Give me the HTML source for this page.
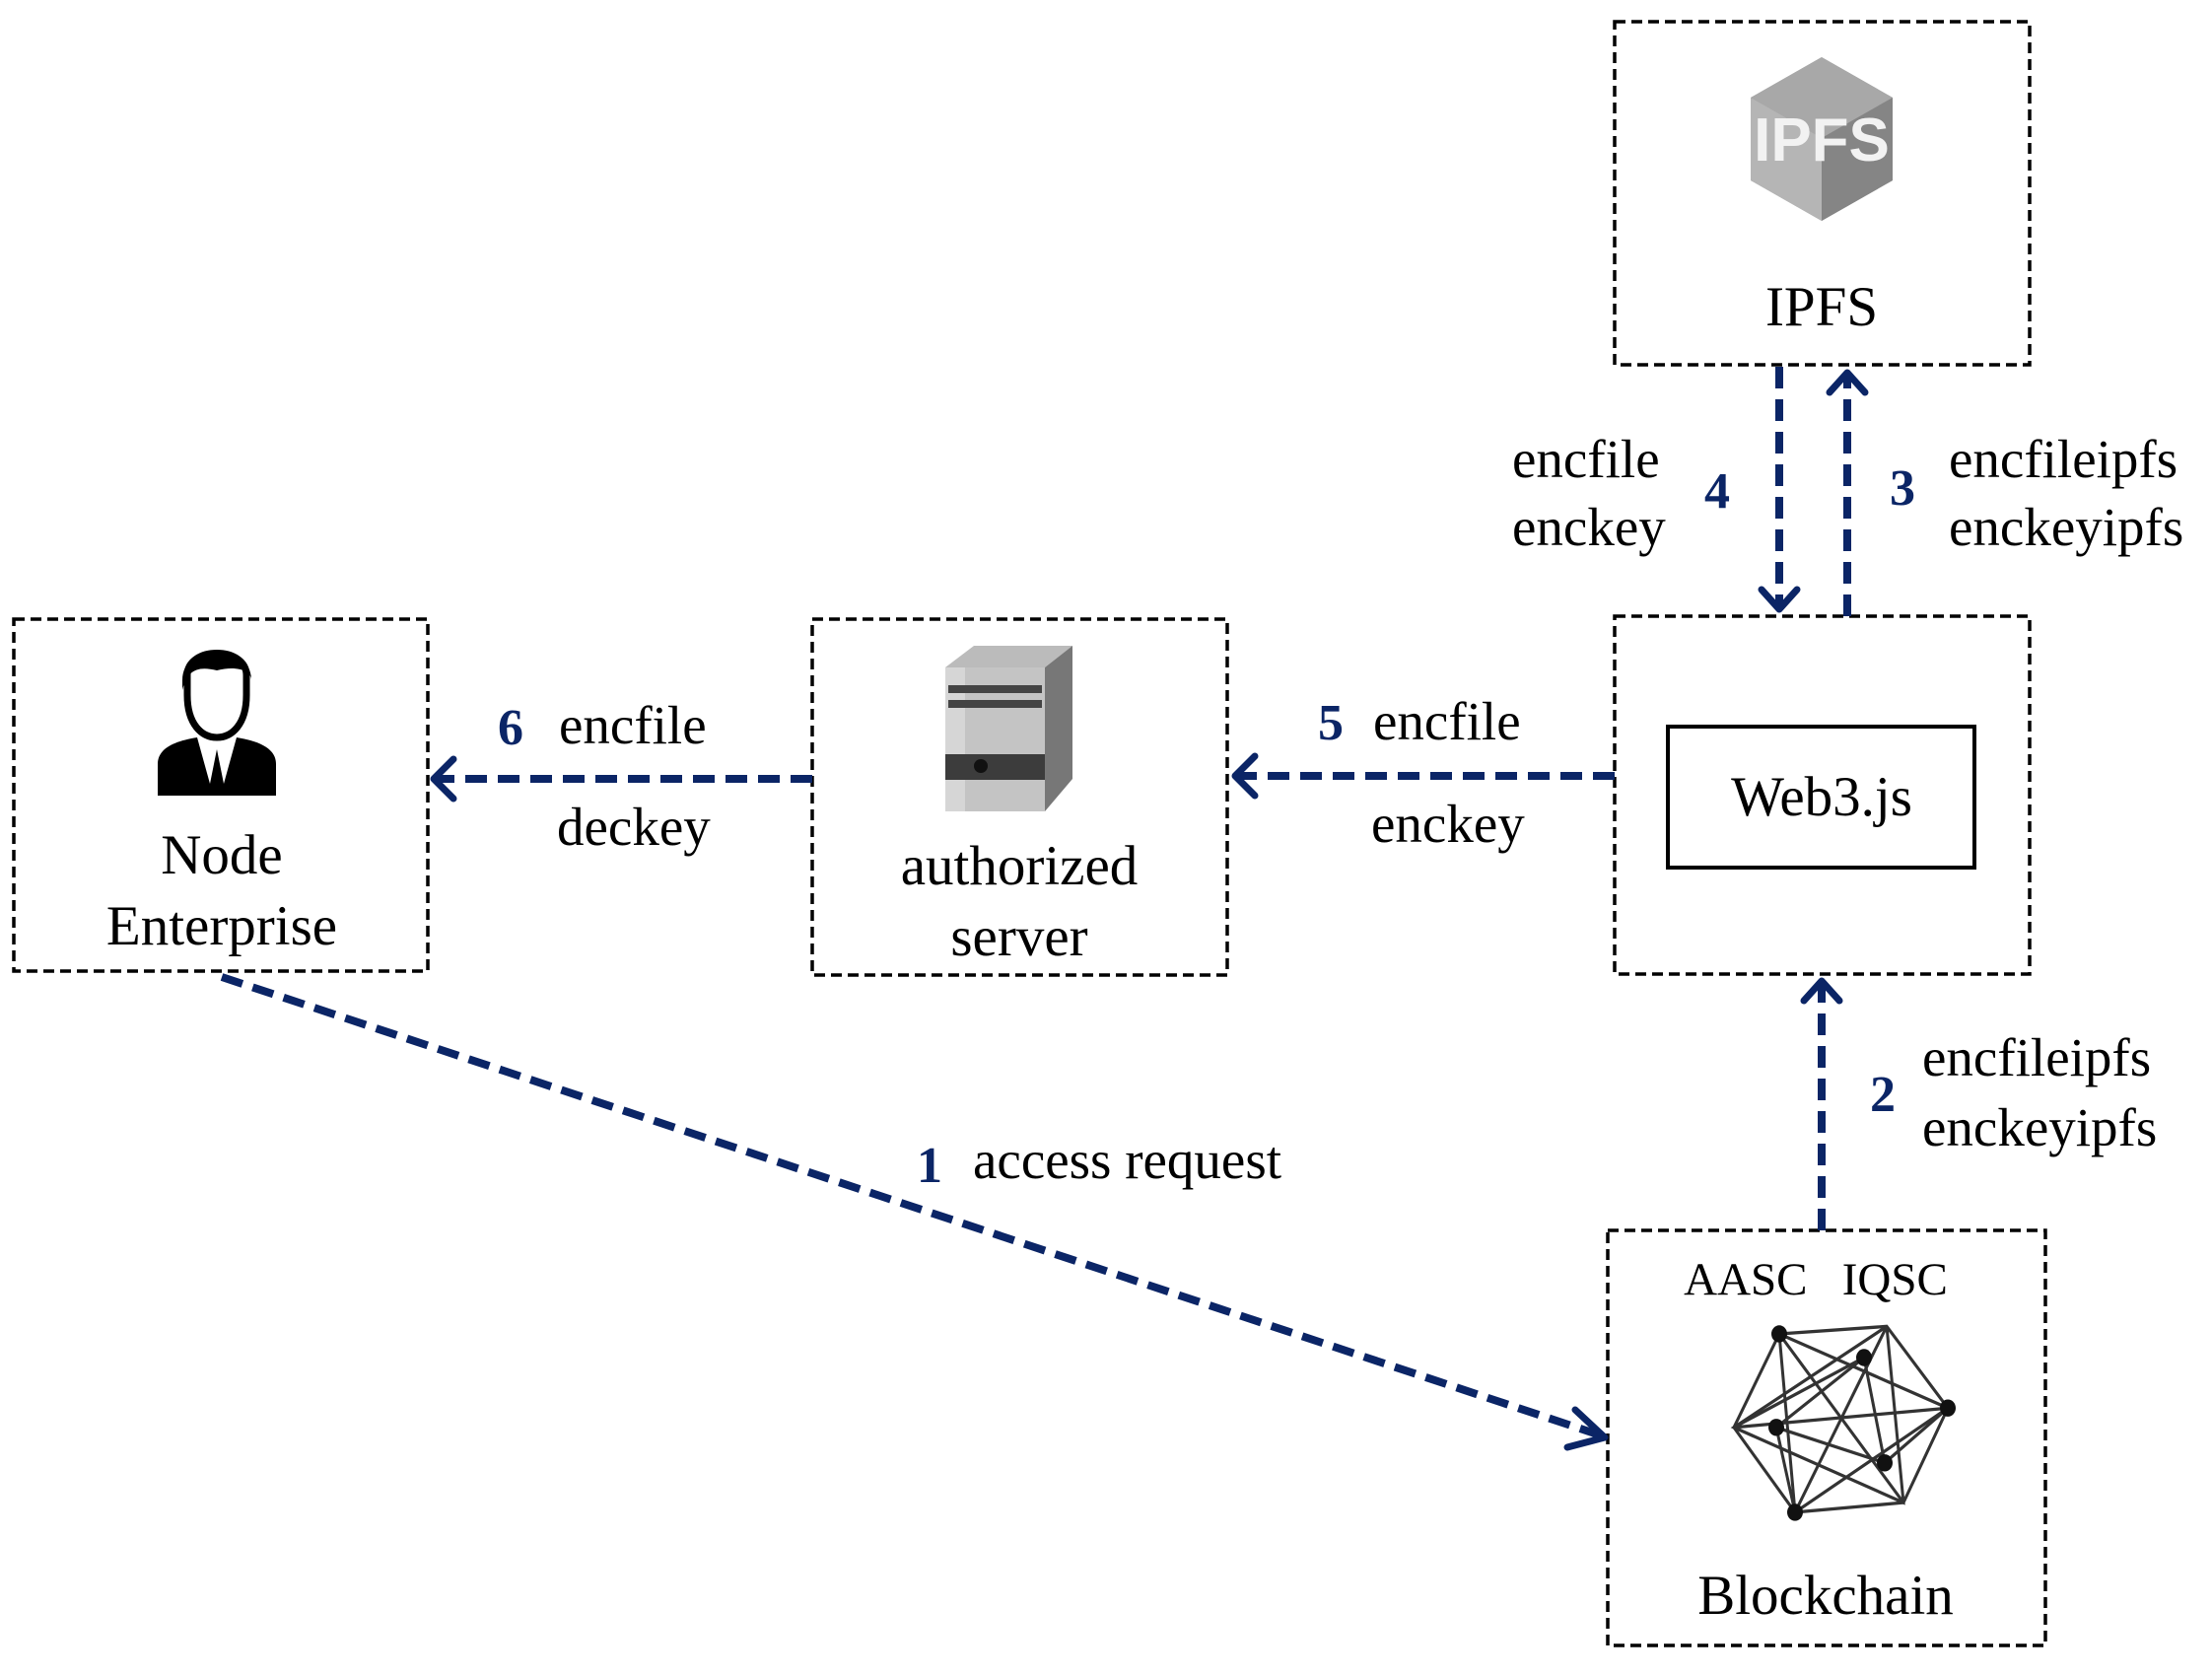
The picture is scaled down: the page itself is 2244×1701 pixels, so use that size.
<!DOCTYPE html>
<html><head><meta charset="utf-8"><style>
html,body{margin:0;padding:0;background:#fff;}
svg text{font-family:"Liberation Serif",serif;fill:#000;}
</style></head><body>
<svg width="2244" height="1696" viewBox="0 0 2244 1696" xmlns="http://www.w3.org/2000/svg">
<g fill="none" stroke="#000" stroke-width="3.5" stroke-dasharray="11 6">
<rect x="1638" y="22" width="421" height="348"/>
<rect x="1638" y="625" width="421" height="363"/>
<rect x="14" y="628" width="420" height="357"/>
<rect x="824" y="628" width="421" height="361"/>
<rect x="1631" y="1248" width="444" height="421"/>
</g>
<rect x="1692" y="737" width="311" height="143" fill="none" stroke="#000" stroke-width="4"/>

<g fill="none" stroke="#0b2566" stroke-width="8" stroke-dasharray="22 11">
<line x1="824" y1="790" x2="440" y2="790"/>
<line x1="1638" y1="787" x2="1253" y2="787"/>
<line x1="1805" y1="372" x2="1805" y2="616"/>
<line x1="1874" y1="625" x2="1874" y2="380"/>
<line x1="1848" y1="1248" x2="1848" y2="997"/>
<line x1="225" y1="991" x2="1624" y2="1456"/>
</g>
<g fill="none" stroke="#0b2566" stroke-width="7" stroke-linecap="round" stroke-linejoin="round">
<polyline points="460,770 440,790 460,810"/>
<polyline points="1273,767 1253,787 1273,807"/>
<polyline points="1787,598 1805,618 1823,598"/>
<polyline points="1856,398 1874,378 1892,398"/>
<polyline points="1830,1015 1848,995 1866,1015"/>
<polyline points="1598,1430 1628,1458 1590,1468"/>
</g>

<g font-size="55">
<text x="567" y="754">encfile</text>
<text x="565" y="857">deckey</text>
<text x="1393" y="750">encfile</text>
<text x="1391" y="854">enckey</text>
<text x="1534" y="484">encfile</text>
<text x="1534" y="553">enckey</text>
<text x="1977" y="484">encfileipfs</text>
<text x="1977" y="553">enckeyipfs</text>
<text x="1950" y="1091">encfileipfs</text>
<text x="1950" y="1162">enckeyipfs</text>
<text x="987" y="1195">access request</text>
</g>
<g font-size="52" font-weight="bold" text-anchor="middle">
<text x="518" y="755" style="fill:#0b2566">6</text>
<text x="1350" y="750" style="fill:#0b2566">5</text>
<text x="1742" y="515" style="fill:#0b2566">4</text>
<text x="1930" y="512" style="fill:#0b2566">3</text>
<text x="1910" y="1127" style="fill:#0b2566">2</text>
<text x="943" y="1199" style="fill:#0b2566">1</text>
</g>
<g font-size="57" text-anchor="middle">
<text x="225" y="886">Node</text>
<text x="225" y="958">Enterprise</text>
<text x="1034" y="897">authorized</text>
<text x="1034" y="969">server</text>
<text x="1848" y="330">IPFS</text>
<text x="1848" y="827">Web3.js</text>
<text x="1852" y="1637">Blockchain</text>
<text x="1842" y="1313" font-size="47">AASC&#160;&#160;&#160;IQSC</text>
</g>

<polygon points="1848,58 1920,99 1920,183 1848,224 1776,183 1776,99" fill="#9a9a9a"/>
<polygon points="1848,58 1920,99 1848,140 1776,99" fill="#a8a8a8"/>
<polygon points="1776,99 1848,140 1848,224 1776,183" fill="#b5b5b5"/>
<polygon points="1920,99 1848,140 1848,224 1920,183" fill="#858585"/>
<text x="1848" y="163" text-anchor="middle" font-size="62" font-weight="bold" style="fill:#f2f2f2;font-family:'Liberation Sans',sans-serif">IPFS</text>

<polygon points="959,677 1060,677 1088,655 988,655" fill="#bbb"/>
<polygon points="1060,677 1088,655 1088,790 1060,823" fill="#777"/>
<rect x="959" y="677" width="101" height="146" fill="#c4c4c4"/>
<rect x="959" y="677" width="20" height="146" fill="#d6d6d6"/>
<rect x="962" y="695" width="95" height="8" fill="#444"/>
<rect x="962" y="710" width="95" height="8" fill="#444"/>
<rect x="959" y="765" width="101" height="26" fill="#3c3c3c"/>
<circle cx="995" cy="777" r="7" fill="#111"/>

<path d="M190,685 C190,655 250,655 250,685 L250,705 C250,735 235,748 220,748 C205,748 190,735 190,705 Z" fill="#fff" stroke="#000" stroke-width="7"/>
<path d="M185,690 C185,650 255,650 255,690 C255,680 240,675 220,680 C200,675 190,680 185,700 Z" fill="#000"/>
<path d="M160,807 L160,775 C160,760 175,752 200,748 L213,795 L220,760 L227,795 L240,748 C265,752 280,760 280,775 L280,807 Z" fill="#000"/>

<g transform="translate(0,1353) scale(1,1.09) translate(0,-1324)">
<g stroke="#333" stroke-width="3" fill="none">
<polygon points="1805,1324 1914,1317 1976,1393 1931,1481 1821,1490 1759,1411"/>
<polyline points="1805,1324 1976,1393 1821,1490 1805,1324"/>
<polyline points="1914,1317 1931,1481 1759,1411 1914,1317"/>
<line x1="1805" y1="1324" x2="1931" y2="1481"/>
<line x1="1914" y1="1317" x2="1821" y2="1490"/>
<line x1="1759" y1="1411" x2="1976" y2="1393"/>
<polyline points="1891,1346 1802,1411 1912,1444 1891,1346"/>
<line x1="1891" y1="1346" x2="1759" y2="1411"/>
<line x1="1802" y1="1411" x2="1821" y2="1490"/>
<line x1="1912" y1="1444" x2="1976" y2="1393"/>
</g>
<g fill="#111">
<circle cx="1805" cy="1324" r="8"/><circle cx="1891" cy="1346" r="8"/><circle cx="1976" cy="1393" r="8"/>
<circle cx="1802" cy="1411" r="8"/><circle cx="1912" cy="1444" r="8"/><circle cx="1821" cy="1490" r="8"/>
</g>
</g>
</svg>
</body></html>
